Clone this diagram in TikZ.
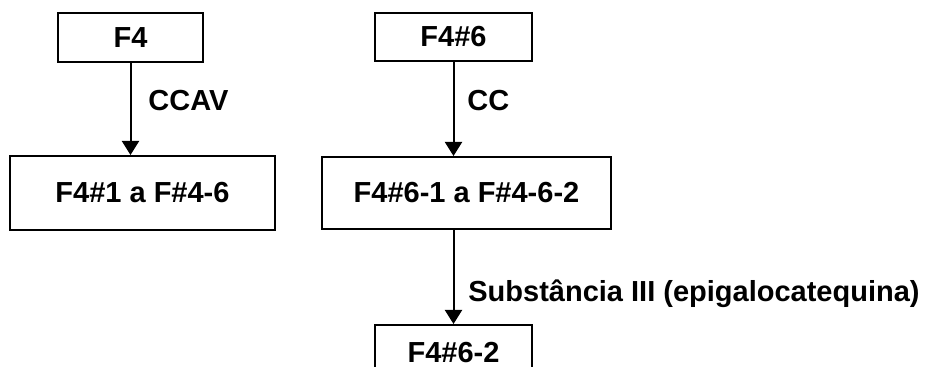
\documentclass[tikz,border=0pt]{standalone}
\usepackage{fontspec}
\setmainfont{Liberation Sans}
\usetikzlibrary{arrows.meta,positioning}
\tikzset{
  fracbox/.style={draw,line width=1pt,inner sep=0pt,font=\bfseries\fontsize{14.5}{17}\selectfont},
  steplabel/.style={anchor=base west,inner sep=0pt,font=\bfseries\fontsize{14.5}{17}\selectfont},
  flow/.style={line width=1pt,-{Triangle[width=8.5pt,length=7pt]}}
}

\begin{document}
\begin{tikzpicture}[x=0.5pt,y=-0.5pt]
    \useasboundingbox (0,0) rectangle (926,367);
    % left column
    \node[fracbox,minimum width=72.5pt,minimum height=24.5pt] (f4) at (130.5,37.5) {F4};
    \node[fracbox,minimum width=132.5pt,minimum height=37pt] (f4sub) at (142.5,193) {F4\#1 a F\#4-6};
    \draw[flow] (f4.south) -- (f4.south |- f4sub.north);
    \node[steplabel] (ccav) at (148,110.5) {CCAV};
    % right column
    \node[fracbox,minimum width=78.5pt,minimum height=24pt] (f46) at (453.5,37) {F4\#6};
    \node[fracbox,minimum width=144.5pt,minimum height=36pt] (f46sub) at (466.5,193) {F4\#6-1 a F\#4-6-2};
    \node[fracbox,minimum width=78.5pt,minimum height=28pt] (f462) at (453.5,353) {F4\#6-2};
    \draw[flow] (f46.south) -- (f46.south |- f46sub.north);
    \draw[flow] (f46sub.south -| f462.north) -- (f462.north);
    \node[steplabel] (cc) at (467,110.5) {CC};
    \node[steplabel] (subst) at (468,302) {Substância III (epigalocatequina)};
\end{tikzpicture}
\end{document}
